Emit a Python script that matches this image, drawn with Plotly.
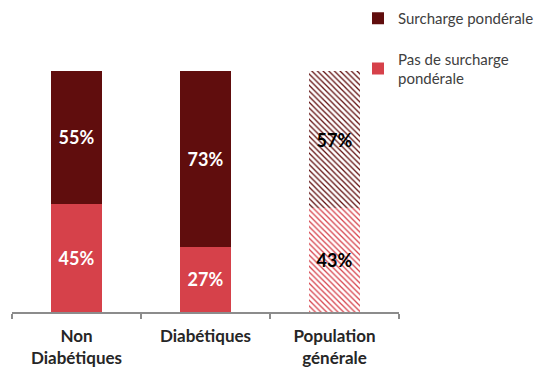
import plotly.graph_objects as go

categories = ["Non<br>Diabétiques", "Diabétiques", "Population<br>générale"]
surcharge = [55, 73, 57]
pas_surcharge = [45, 27, 43]
surcharge_labels = ["55%", "73%", "57%"]
pas_labels = ["45%", "27%", "43%"]

DARK = "#600D0D"
LIGHT = "#D6414A"
FONT = "Lato"
W = 0.4


def label_font(color):
    return dict(family=FONT, size=18, color=color, weight="bold")


fig = go.Figure()
# Solid bars (Non Diabétiques, Diabétiques)
fig.add_trace(go.Bar(
    x=categories[:2], y=pas_surcharge[:2], name="Pas de surcharge<br>pondérale",
    text=pas_labels[:2], textposition="inside", insidetextanchor="middle",
    textfont=label_font("white"),
    marker=dict(color=LIGHT, line=dict(width=0)),
    legendgroup="b", legendrank=2, width=W,
))
fig.add_trace(go.Bar(
    x=categories[:2], y=surcharge[:2], name="Surcharge pondérale",
    text=surcharge_labels[:2], textposition="inside", insidetextanchor="middle",
    textfont=label_font("white"),
    marker=dict(color=DARK, line=dict(width=0)),
    legendgroup="a", legendrank=1, width=W,
))
# Hatched bar (Population générale)
fig.add_trace(go.Bar(
    x=categories[2:], y=pas_surcharge[2:], name="Pas de surcharge<br>pondérale",
    text=pas_labels[2:], textposition="inside", insidetextanchor="middle",
    textfont=label_font("black"),
    marker=dict(color=LIGHT, line=dict(width=0),
                pattern=dict(shape="\\", fillmode="replace", bgcolor="white",
                             fgcolor=LIGHT, fgopacity=1, size=4, solidity=0.32)),
    legendgroup="b", showlegend=False, width=W,
))
fig.add_trace(go.Bar(
    x=categories[2:], y=surcharge[2:], name="Surcharge pondérale",
    text=surcharge_labels[2:], textposition="inside", insidetextanchor="middle",
    textfont=label_font("black"),
    marker=dict(color=DARK, line=dict(width=0),
                pattern=dict(shape="\\", fillmode="replace", bgcolor="white",
                             fgcolor=DARK, fgopacity=1, size=4, solidity=0.32)),
    legendgroup="a", showlegend=False, width=W,
))

fig.update_layout(
    width=539, height=368,
    barmode="stack",
    paper_bgcolor="white", plot_bgcolor="white",
    margin=dict(l=12, r=140, t=71, b=56, autoexpand=False),
    font=dict(family=FONT, color="#404040"),
    legend=dict(
        x=(358 - 12) / 387, y=(312 - 2) / 241, xanchor="left", yanchor="top",
        traceorder="grouped", tracegroupgap=18,
        font=dict(family=FONT, size=15, color="#404040"),
        bgcolor="rgba(0,0,0,0)",
    ),
    xaxis=dict(
        type="category", range=[-0.5, 2.5], categoryorder="array", categoryarray=categories,
        showline=True, linecolor="#8C8C8C", linewidth=1.5,
        ticks="outside", tickson="boundaries", ticklen=5, tickcolor="#8C8C8C", tickwidth=1.5,
        tickfont=dict(family=FONT, size=17, color="#262626", weight="bold"),
        ticklabelstandoff=8, automargin=False,
        showgrid=False,
    ),
    yaxis=dict(range=[0, 100], visible=False, showgrid=False),
)

fig.write_html("out.html")
